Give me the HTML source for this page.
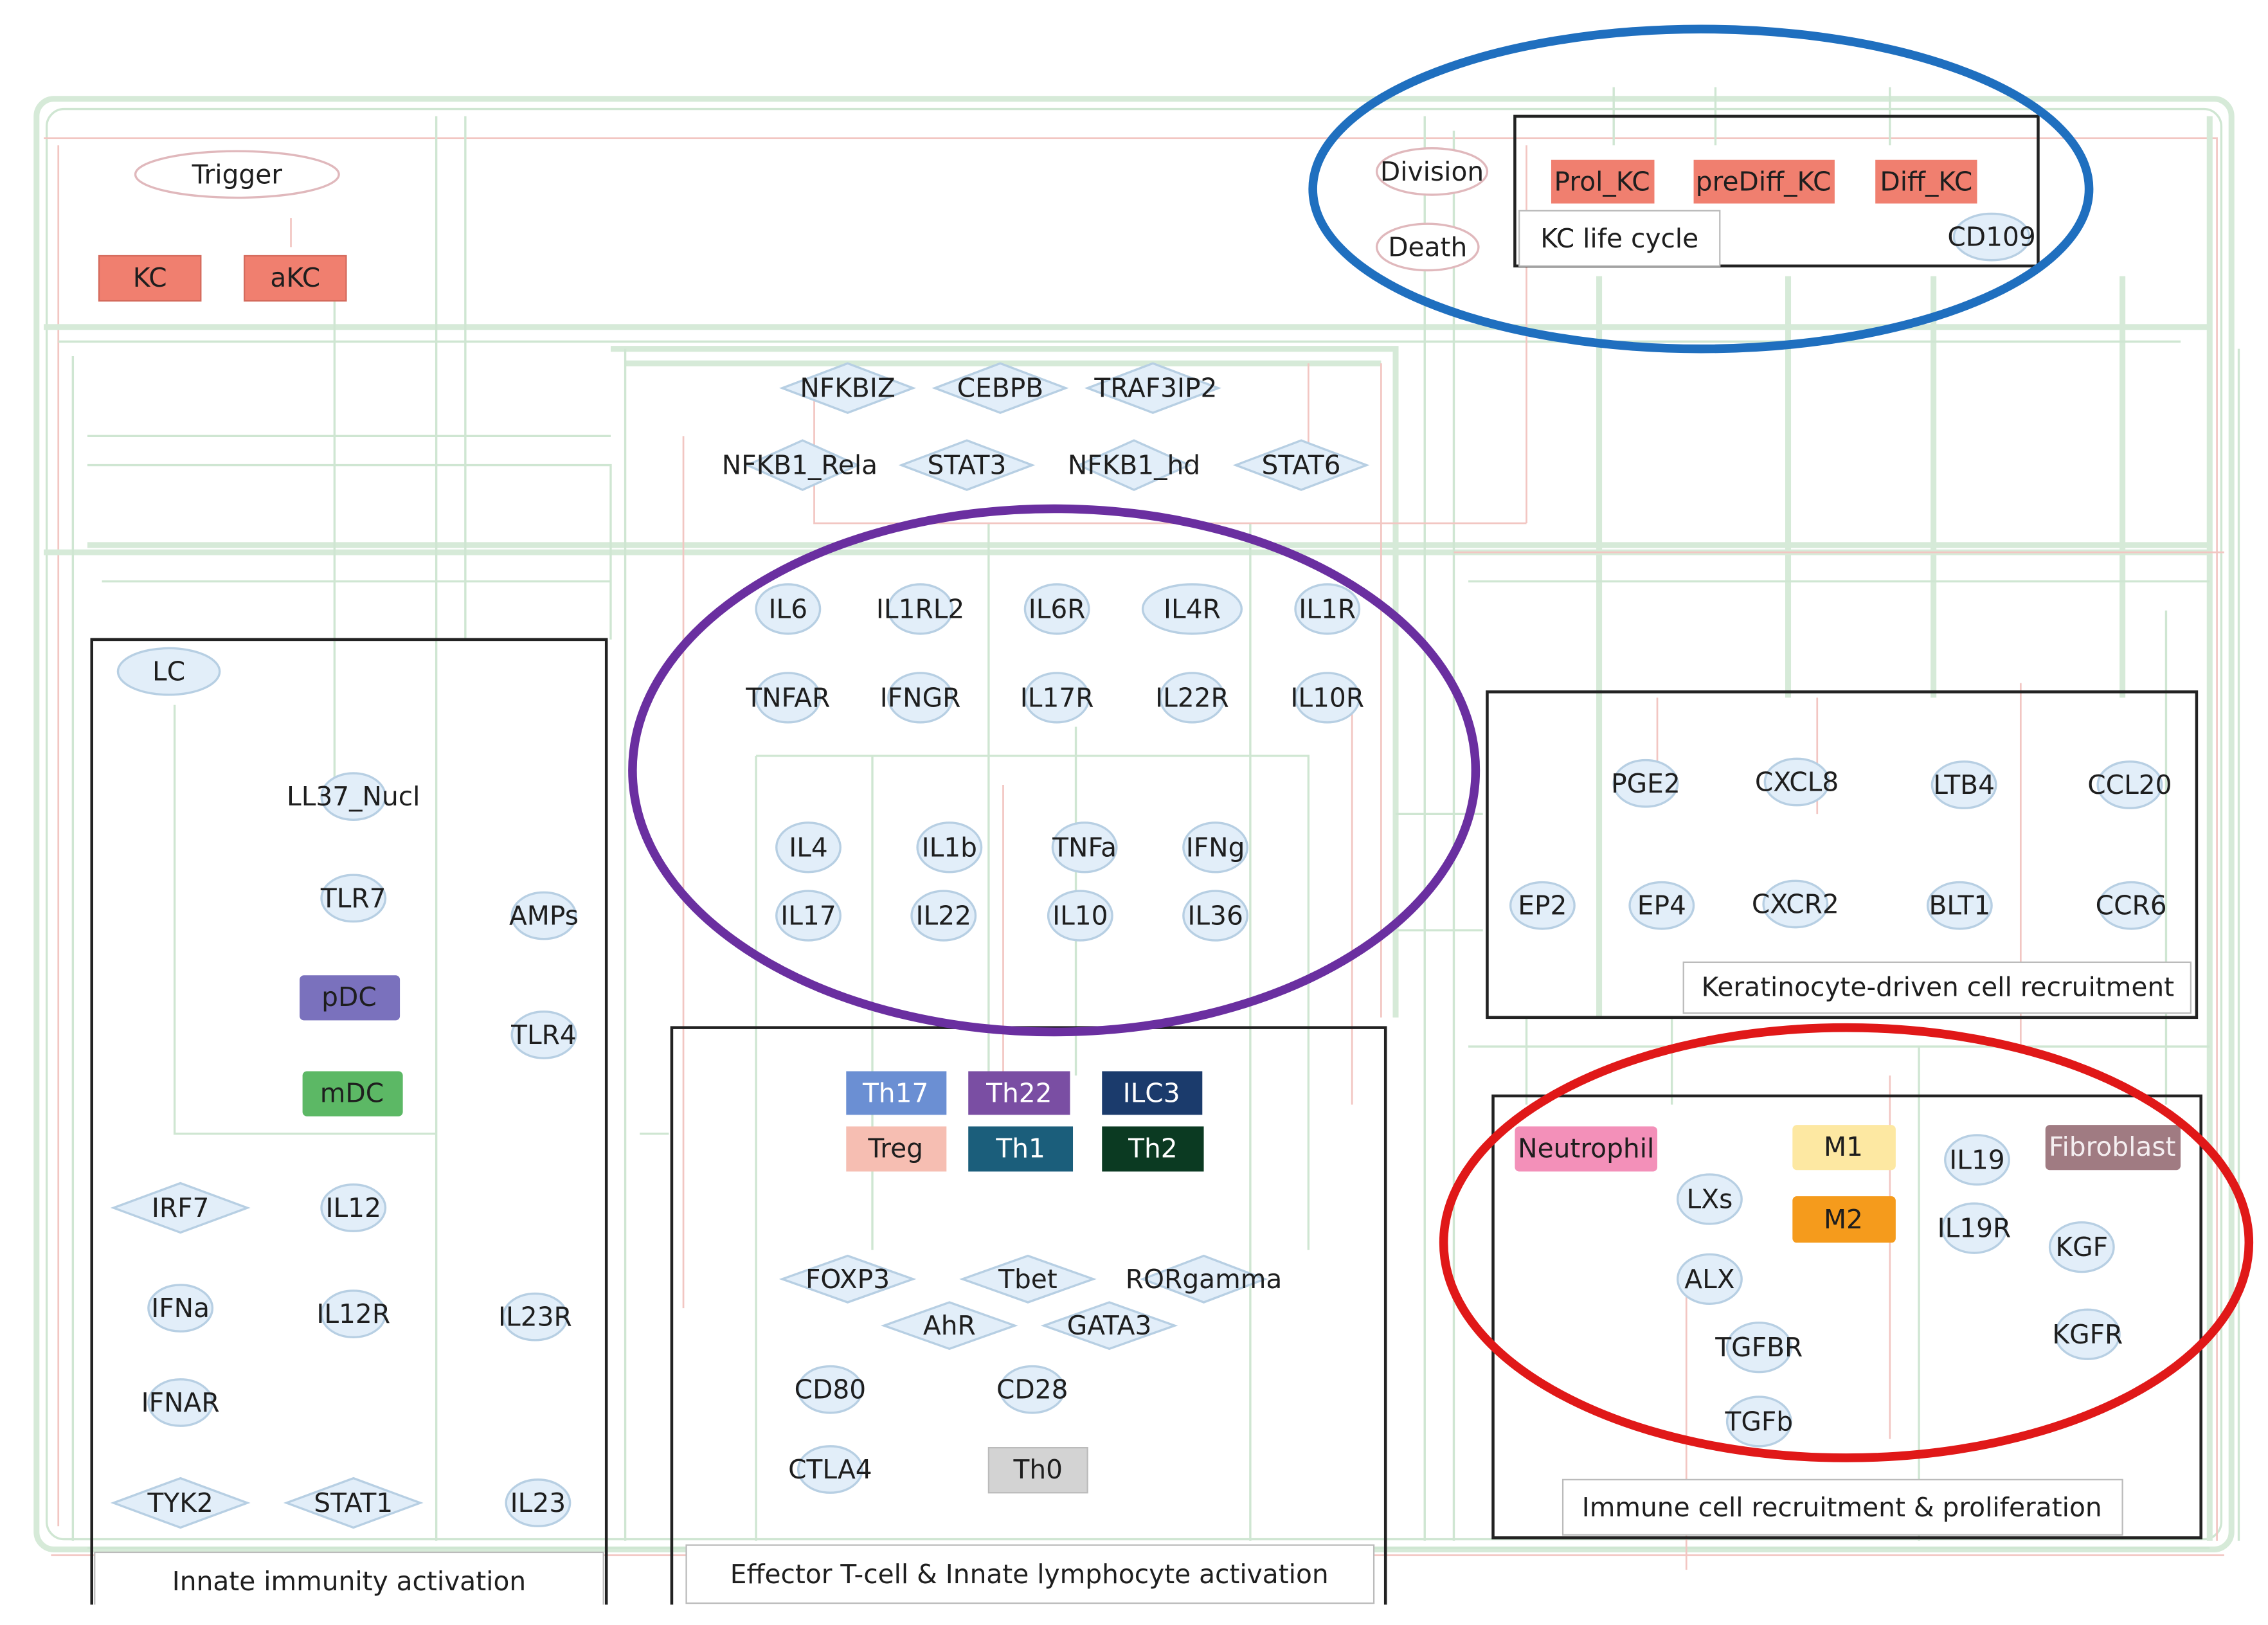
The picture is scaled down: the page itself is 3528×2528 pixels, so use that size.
<!DOCTYPE html>
<html><head><meta charset="utf-8"><style>
html,body{margin:0;padding:0;background:#fff;}
svg{display:block;}
text{font-family:"DejaVu Sans","Liberation Sans",sans-serif;font-size:18px;fill:#1e1e1e;text-anchor:middle;dominant-baseline:central;}
.e{fill:#e2eef9;stroke:#b7cfe3;stroke-width:1.5;}
.d{fill:#e2eef9;stroke:#b7cfe3;stroke-width:1.5;}
.g{fill:none;stroke:#cfe6d2;stroke-width:1.5;}
.G{fill:none;stroke:#d6ead8;stroke-width:4;}
.r{fill:none;stroke:#f2c6c2;stroke-width:1.2;}
.box{fill:none;stroke:#222;stroke-width:2;}
.lab{fill:#fff;stroke:#bbb;stroke-width:1;}
</style></head><body>
<svg width="3528" height="2528" viewBox="0 0 1560 1118" xmlns="http://www.w3.org/2000/svg">
<rect width="1560" height="1118" fill="#fff"/>
<rect x="25" y="68" width="1510" height="998" rx="12" class="G"/>
<rect x="32" y="75" width="1496" height="984" rx="12" class="g"/>
<path class="r" d="M30 95 H1525 V1060 M40 100 V1050"/>
<path class="G" d="M30 225 H1520 M30 380 H1520 M420 240 H960 V700 M430 250 H950 M60 375 H1520 M1100 190 V700 M1230 190 V480 M1330 190 V480 M1460 190 V480 M1520 80 V1060"/>
<path class="g" d="M40 235 H1500 M50 245 V1060 M300 80 V1060 M320 80 V440 M430 240 V1060 M520 520 H900 V860 M520 520 V1060 M600 520 V860 M680 360 V740 M740 500 V740 M860 360 V1060 M980 80 V1060 M1000 90 V1060 M1010 400 H1520 M1010 720 H1520 M1050 700 V760 M1150 700 V760 M1320 720 V1060 M1490 420 V760 M70 400 H420 M60 1065 H1520 M120 485 V780 H300 M230 200 V540 M440 780 H460 M960 560 H1020 M960 640 H1020 M1540 240 V1060 M1110 60 V100 M1180 60 V100 M1300 60 V100 M60 300 H420 M60 320 H420 V440"/>
<path class="r" d="M470 300 V900 M560 260 V360 H1050 M1050 100 V360 M900 250 V330 M950 250 V700 M930 480 V760 M1390 470 V720 M1140 480 V530 M1250 480 V560 M1160 880 V1080 M1300 740 V990 M690 540 V740 M200 150 V170 M1000 380 H1530 M35 1070 H1530"/>
<ellipse cx="163" cy="120" rx="70" ry="16" fill="#fff" stroke="#e0b8bc" stroke-width="1.5"/><text x="163" y="120">Trigger</text>
<rect x="68" y="176" width="70" height="31" fill="#f07f6f" stroke="#d46a5c"/><text x="103" y="191">KC</text>
<rect x="168" y="176" width="70" height="31" fill="#f07f6f" stroke="#d46a5c"/><text x="203" y="191">aKC</text>
<rect x="1042" y="80" width="360" height="103" class="box" fill="#fff"/>
<rect x="1045" y="145" width="138" height="38" class="lab"/><text x="1114" y="164">KC life cycle</text>
<ellipse cx="985" cy="118" rx="38" ry="16" fill="#fff" stroke="#e0b8bc" stroke-width="1.5"/><text x="985" y="118">Division</text>
<ellipse cx="982" cy="170" rx="35" ry="16" fill="#fff" stroke="#e0b8bc" stroke-width="1.5"/><text x="982" y="170">Death</text>
<rect x="1067" y="110" width="71" height="30" fill="#f07f6f"/><text x="1102" y="125">Prol_KC</text>
<rect x="1165" y="110" width="97" height="30" fill="#f07f6f"/><text x="1213" y="125">preDiff_KC</text>
<rect x="1290" y="110" width="70" height="30" fill="#f07f6f"/><text x="1325" y="125">Diff_KC</text>
<ellipse cx="1370" cy="163" rx="26" ry="16" class="e"/><text x="1370" y="163">CD109</text>
<g>
<polygon class="d" points="583,250 628,267 583,284 538,267"/><text x="583" y="267">NFKBIZ</text>
<polygon class="d" points="688,250 733,267 688,284 643,267"/><text x="688" y="267">CEBPB</text>
<polygon class="d" points="793,250 838,267 793,284 748,267"/><text x="795" y="267">TRAF3IP2</text>
<polygon class="d" points="552,303 590,320 552,337 514,320"/><text x="550" y="320">NFKB1_Rela</text>
<polygon class="d" points="665,303 710,320 665,337 620,320"/><text x="665" y="320">STAT3</text>
<polygon class="d" points="780,303 818,320 780,337 742,320"/><text x="780" y="320">NFKB1_hd</text>
<polygon class="d" points="895,303 940,320 895,337 850,320"/><text x="895" y="320">STAT6</text>
</g>
<g>
<ellipse cx="542" cy="419" rx="22" ry="17" class="e"/><text x="542" y="419">IL6</text>
<ellipse cx="633" cy="419" rx="22" ry="17" class="e"/><text x="633" y="419">IL1RL2</text>
<ellipse cx="727" cy="419" rx="22" ry="17" class="e"/><text x="727" y="419">IL6R</text>
<ellipse cx="820" cy="419" rx="34" ry="17" class="e"/><text x="820" y="419">IL4R</text>
<ellipse cx="913" cy="419" rx="22" ry="17" class="e"/><text x="913" y="419">IL1R</text>
<ellipse cx="542" cy="480" rx="22" ry="17" class="e"/><text x="542" y="480">TNFAR</text>
<ellipse cx="633" cy="480" rx="22" ry="17" class="e"/><text x="633" y="480">IFNGR</text>
<ellipse cx="727" cy="480" rx="22" ry="17" class="e"/><text x="727" y="480">IL17R</text>
<ellipse cx="820" cy="480" rx="22" ry="17" class="e"/><text x="820" y="480">IL22R</text>
<ellipse cx="913" cy="480" rx="22" ry="17" class="e"/><text x="913" y="480">IL10R</text>
<ellipse cx="556" cy="583" rx="22" ry="17" class="e"/><text x="556" y="583">IL4</text>
<ellipse cx="653" cy="583" rx="22" ry="17" class="e"/><text x="653" y="583">IL1b</text>
<ellipse cx="746" cy="583" rx="22" ry="17" class="e"/><text x="746" y="583">TNFa</text>
<ellipse cx="836" cy="583" rx="22" ry="17" class="e"/><text x="836" y="583">IFNg</text>
<ellipse cx="556" cy="630" rx="22" ry="17" class="e"/><text x="556" y="630">IL17</text>
<ellipse cx="649" cy="630" rx="22" ry="17" class="e"/><text x="649" y="630">IL22</text>
<ellipse cx="743" cy="630" rx="22" ry="17" class="e"/><text x="743" y="630">IL10</text>
<ellipse cx="836" cy="630" rx="22" ry="17" class="e"/><text x="836" y="630">IL36</text>
</g>
<rect x="63" y="440" width="354" height="680" class="box"/>
<rect x="65" y="1068" width="350" height="40" class="lab"/><text x="240" y="1088">Innate immunity activation</text>
<ellipse cx="116" cy="462" rx="35" ry="16" class="e"/><text x="116" y="462">LC</text>
<ellipse cx="243" cy="548" rx="22" ry="16" class="e"/><text x="243" y="548">LL37_Nucl</text>
<ellipse cx="243" cy="618" rx="22" ry="16" class="e"/><text x="243" y="618">TLR7</text>
<ellipse cx="374" cy="630" rx="22" ry="16" class="e"/><text x="374" y="630">AMPs</text>
<rect x="206" y="671" width="69" height="31" rx="3" fill="#7a71bd"/><text x="240" y="686">pDC</text>
<ellipse cx="374" cy="712" rx="22" ry="16" class="e"/><text x="374" y="712">TLR4</text>
<rect x="208" y="737" width="69" height="31" rx="3" fill="#5cb865"/><text x="242" y="752">mDC</text>
<polygon class="d" points="124,814 170,831 124,848 78,831"/><text x="124" y="831">IRF7</text>
<ellipse cx="243" cy="831" rx="22" ry="16" class="e"/><text x="243" y="831">IL12</text>
<ellipse cx="124" cy="900" rx="22" ry="16" class="e"/><text x="124" y="900">IFNa</text>
<ellipse cx="243" cy="904" rx="22" ry="16" class="e"/><text x="243" y="904">IL12R</text>
<ellipse cx="368" cy="906" rx="22" ry="16" class="e"/><text x="368" y="906">IL23R</text>
<ellipse cx="124" cy="965" rx="22" ry="16" class="e"/><text x="124" y="965">IFNAR</text>
<polygon class="d" points="124,1017 170,1034 124,1051 78,1034"/><text x="124" y="1034">TYK2</text>
<polygon class="d" points="243,1017 289,1034 243,1051 197,1034"/><text x="243" y="1034">STAT1</text>
<ellipse cx="370" cy="1034" rx="22" ry="16" class="e"/><text x="370" y="1034">IL23</text>
<rect x="462" y="707" width="491" height="420" class="box"/>
<rect x="472" y="1063" width="473" height="40" class="lab"/><text x="708" y="1083">Effector T-cell &amp;  Innate lymphocyte activation</text>
<rect x="582" y="737" width="69" height="30" fill="#6b8fd3"/><text x="616" y="752" style="fill:#fff">Th17</text>
<rect x="666" y="737" width="70" height="30" fill="#7a4ea3"/><text x="701" y="752" style="fill:#fff">Th22</text>
<rect x="758" y="737" width="69" height="30" fill="#1b3b6c"/><text x="792" y="752" style="fill:#fff">ILC3</text>
<rect x="582" y="775" width="69" height="31" fill="#f6beb2"/><text x="616" y="790">Treg</text>
<rect x="666" y="775" width="72" height="31" fill="#1b5e7b"/><text x="702" y="790" style="fill:#fff">Th1</text>
<rect x="758" y="775" width="70" height="31" fill="#0b3a22"/><text x="793" y="790" style="fill:#fff">Th2</text>
<polygon class="d" points="583,864 628,880 583,896 538,880"/><text x="583" y="880">FOXP3</text>
<polygon class="d" points="707,864 752,880 707,896 662,880"/><text x="707" y="880">Tbet</text>
<polygon class="d" points="828,864 870,880 828,896 786,880"/><text x="828" y="880">RORgamma</text>
<polygon class="d" points="653,896 698,912 653,928 608,912"/><text x="653" y="912">AhR</text>
<polygon class="d" points="763,896 808,912 763,928 718,912"/><text x="763" y="912">GATA3</text>
<ellipse cx="571" cy="956" rx="22" ry="16" class="e"/><text x="571" y="956">CD80</text>
<ellipse cx="710" cy="956" rx="22" ry="16" class="e"/><text x="710" y="956">CD28</text>
<ellipse cx="571" cy="1011" rx="22" ry="16" class="e"/><text x="571" y="1011">CTLA4</text>
<rect x="680" y="996" width="68" height="31" fill="#d3d3d3" stroke="#bbb"/><text x="714" y="1011">Th0</text>
<rect x="1023" y="476" width="488" height="224" class="box"/>
<rect x="1158" y="662" width="349" height="35" class="lab"/><text x="1333" y="679">Keratinocyte-driven cell recruitment</text>
<ellipse cx="1132" cy="539" rx="22" ry="16" class="e"/><text x="1132" y="539">PGE2</text>
<ellipse cx="1236" cy="538" rx="22" ry="16" class="e"/><text x="1236" y="538">CXCL8</text>
<ellipse cx="1351" cy="540" rx="22" ry="16" class="e"/><text x="1351" y="540">LTB4</text>
<ellipse cx="1465" cy="540" rx="22" ry="16" class="e"/><text x="1465" y="540">CCL20</text>
<ellipse cx="1061" cy="623" rx="22" ry="16" class="e"/><text x="1061" y="623">EP2</text>
<ellipse cx="1143" cy="623" rx="22" ry="16" class="e"/><text x="1143" y="623">EP4</text>
<ellipse cx="1235" cy="622" rx="22" ry="16" class="e"/><text x="1235" y="622">CXCR2</text>
<ellipse cx="1348" cy="623" rx="22" ry="16" class="e"/><text x="1348" y="623">BLT1</text>
<ellipse cx="1466" cy="623" rx="22" ry="16" class="e"/><text x="1466" y="623">CCR6</text>
<rect x="1027" y="754" width="487" height="304" class="box"/>
<rect x="1075" y="1018" width="385" height="38" class="lab"/><text x="1267" y="1037">Immune cell  recruitment &amp; proliferation</text>
<rect x="1042" y="775" width="98" height="31" rx="3" fill="#f390b9"/><text x="1091" y="790">Neutrophil</text>
<rect x="1233" y="774" width="71" height="31" rx="3" fill="#fde8a2"/><text x="1268" y="789">M1</text>
<rect x="1233" y="823" width="71" height="32" rx="3" fill="#f59b1c"/><text x="1268" y="839">M2</text>
<rect x="1407" y="774" width="93" height="31" rx="3" fill="#a07b82"/><text x="1453" y="789" style="fill:#f4eef0">Fibroblast</text>
<ellipse cx="1176" cy="825" rx="22" ry="17" class="e"/><text x="1176" y="825">LXs</text>
<ellipse cx="1360" cy="798" rx="22" ry="17" class="e"/><text x="1360" y="798">IL19</text>
<ellipse cx="1358" cy="845" rx="22" ry="17" class="e"/><text x="1358" y="845">IL19R</text>
<ellipse cx="1432" cy="858" rx="22" ry="17" class="e"/><text x="1432" y="858">KGF</text>
<ellipse cx="1176" cy="880" rx="22" ry="17" class="e"/><text x="1176" y="880">ALX</text>
<ellipse cx="1436" cy="918" rx="22" ry="17" class="e"/><text x="1436" y="918">KGFR</text>
<ellipse cx="1210" cy="927" rx="22" ry="17" class="e"/><text x="1210" y="927">TGFBR</text>
<ellipse cx="1210" cy="978" rx="22" ry="17" class="e"/><text x="1210" y="978">TGFb</text>
<ellipse cx="1170" cy="130" rx="267" ry="110" fill="none" stroke="#1f6fbf" stroke-width="6"/>
<ellipse cx="725" cy="530" rx="290" ry="180" fill="none" stroke="#6a2fa0" stroke-width="6"/>
<ellipse cx="1270" cy="855" rx="277" ry="148" fill="none" stroke="#e01818" stroke-width="6"/>
<rect x="0" y="1104" width="1560" height="14" fill="#fff"/>
</svg>
</body></html>
